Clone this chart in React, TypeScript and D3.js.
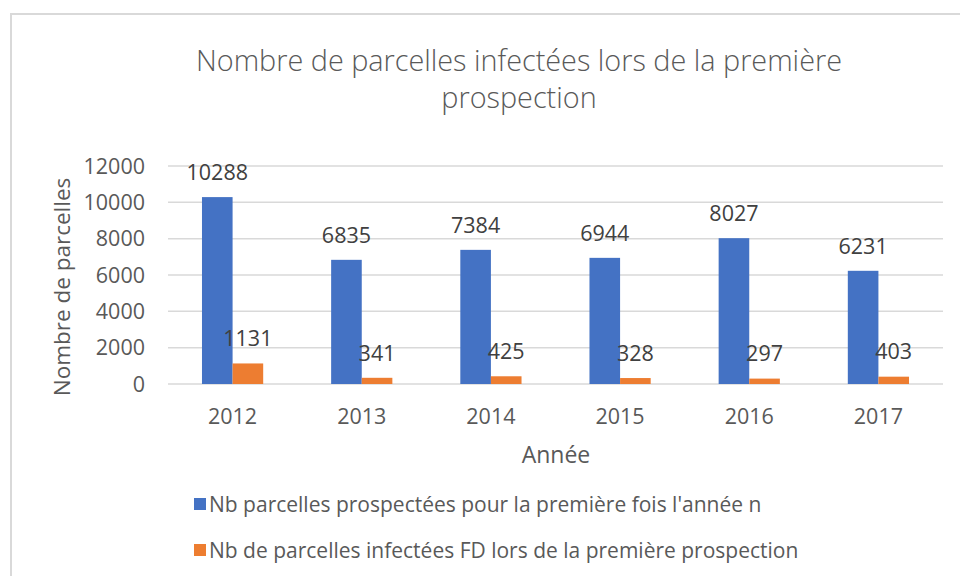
import React, { useEffect, useRef } from 'react'
import * as d3 from 'd3'

const years = ['2012', '2013', '2014', '2015', '2016', '2017']
const prospectees = [10288, 6835, 7384, 6944, 8027, 6231]
const infectees = [1131, 341, 425, 328, 297, 403]
const yTicks = [0, 2000, 4000, 6000, 8000, 10000, 12000]

const seriesNames = [
  "Nb parcelles prospectées pour la première fois l'année n",
  'Nb de parcelles infectées FD lors de la première prospection',
]
const colors = ['#4472C4', '#ED7D31']
const titleLines = ['Nombre de parcelles infectées lors de la première', 'prospection']

const FONT = '"Open Sans", "Noto Sans", sans-serif'
const TEXT = '#595959'

export default function App() {
  const svgRef = useRef<SVGSVGElement>(null)

  useEffect(() => {
    const width = 960
    const height = 576
    const margin = { top: 166, right: 17, bottom: 192, left: 168 }

    const svg = d3.select(svgRef.current)
    svg.selectAll('*').remove()
    svg.attr('viewBox', `0 0 ${width} ${height}`)

    svg.append('rect')
      .attr('width', width).attr('height', height).attr('fill', '#fff')

    // chart frame (only top and left edges are visible in the crop)
    svg.append('path')
      .attr('d', `M11,${height} V14 H${width}`)
      .attr('fill', 'none')
      .attr('stroke', '#d9d9d9')
      .attr('stroke-width', 2)

    const x = d3.scaleBand()
      .domain(years)
      .range([margin.left, width - margin.right])

    const y = d3.scaleLinear()
      .domain([0, 12000])
      .range([height - margin.bottom, margin.top])

    const barW = x.bandwidth() / 4.22

    // gridlines
    svg.append('g')
      .selectAll('line')
      .data(yTicks)
      .join('line')
      .attr('x1', margin.left)
      .attr('x2', width - margin.right)
      .attr('y1', (d) => y(d))
      .attr('y2', (d) => y(d))
      .attr('stroke', '#d9d9d9')
      .attr('stroke-width', 1.5)

    // y tick labels
    svg.append('g')
      .selectAll('text')
      .data(yTicks)
      .join('text')
      .attr('x', 145)
      .attr('y', (d) => y(d))
      .attr('dy', '0.36em')
      .attr('text-anchor', 'end')
      .attr('font-size', 21.5)
      .attr('fill', TEXT)
      .text((d) => d)

    // x tick labels
    svg.append('g')
      .selectAll('text')
      .data(years)
      .join('text')
      .attr('x', (d) => x(d)! + x.bandwidth() / 2)
      .attr('y', 416)
      .attr('dy', '0.36em')
      .attr('text-anchor', 'middle')
      .attr('font-size', 21.5)
      .attr('fill', TEXT)
      .text((d) => d)

    const series = [prospectees, infectees]
    series.forEach((values, si) => {
      const g = svg.append('g')
      const cx = (i: number) => x(years[i])! + x.bandwidth() / 2 + (si - 1) * barW

      g.selectAll('rect')
        .data(values)
        .join('rect')
        .attr('x', (_, i) => cx(i))
        .attr('y', (d) => y(d))
        .attr('width', barW)
        .attr('height', (d) => y(0) - y(d))
        .attr('fill', colors[si])

      g.selectAll('text')
        .data(values)
        .join('text')
        .attr('x', (_, i) => cx(i) + barW / 2)
        .attr('y', (d) => y(d) - 25)
        .attr('dy', '0.36em')
        .attr('text-anchor', 'middle')
        .attr('font-size', 21.5)
        .attr('fill', '#404040')
        .text((d) => d)
    })

    // axis titles
    svg.append('text')
      .attr('transform', `translate(62,${(y(0) + y(12000)) / 2 + 12}) rotate(-90)`)
      .attr('dy', '0.36em')
      .attr('text-anchor', 'middle')
      .attr('font-size', 22.5)
      .attr('fill', TEXT)
      .text('Nombre de parcelles')

    svg.append('text')
      .attr('x', 556)
      .attr('y', 455)
      .attr('dy', '0.36em')
      .attr('text-anchor', 'middle')
      .attr('font-size', 23)
      .attr('fill', TEXT)
      .text('Année')

    // title
    svg.append('g')
      .selectAll('text')
      .data(titleLines)
      .join('text')
      .attr('x', 519)
      .attr('y', (_, i) => 61 + i * 37)
      .attr('dy', '0.36em')
      .attr('text-anchor', 'middle')
      .attr('font-size', 28.8)
      .attr('font-weight', 300)
      .attr('fill', TEXT)
      .text((d) => d)

    // legend
    const legend = svg.append('g')
      .selectAll('g')
      .data(seriesNames)
      .join('g')
      .attr('transform', (_, i) => `translate(194,${504 + i * 46})`)

    legend.append('rect')
      .attr('x', 0).attr('y', -6)
      .attr('width', 12).attr('height', 12)
      .attr('fill', (_, i) => colors[i])

    legend.append('text')
      .attr('x', 15)
      .attr('dy', '0.36em')
      .attr('font-size', 21)
      .attr('fill', TEXT)
      .text((d) => d)
  }, [])

  return (
    <svg
      ref={svgRef}
      width={960}
      height={576}
      style={{ position: 'absolute', left: 0, top: 0, display: 'block', fontFamily: FONT }}
    />
  )
}
